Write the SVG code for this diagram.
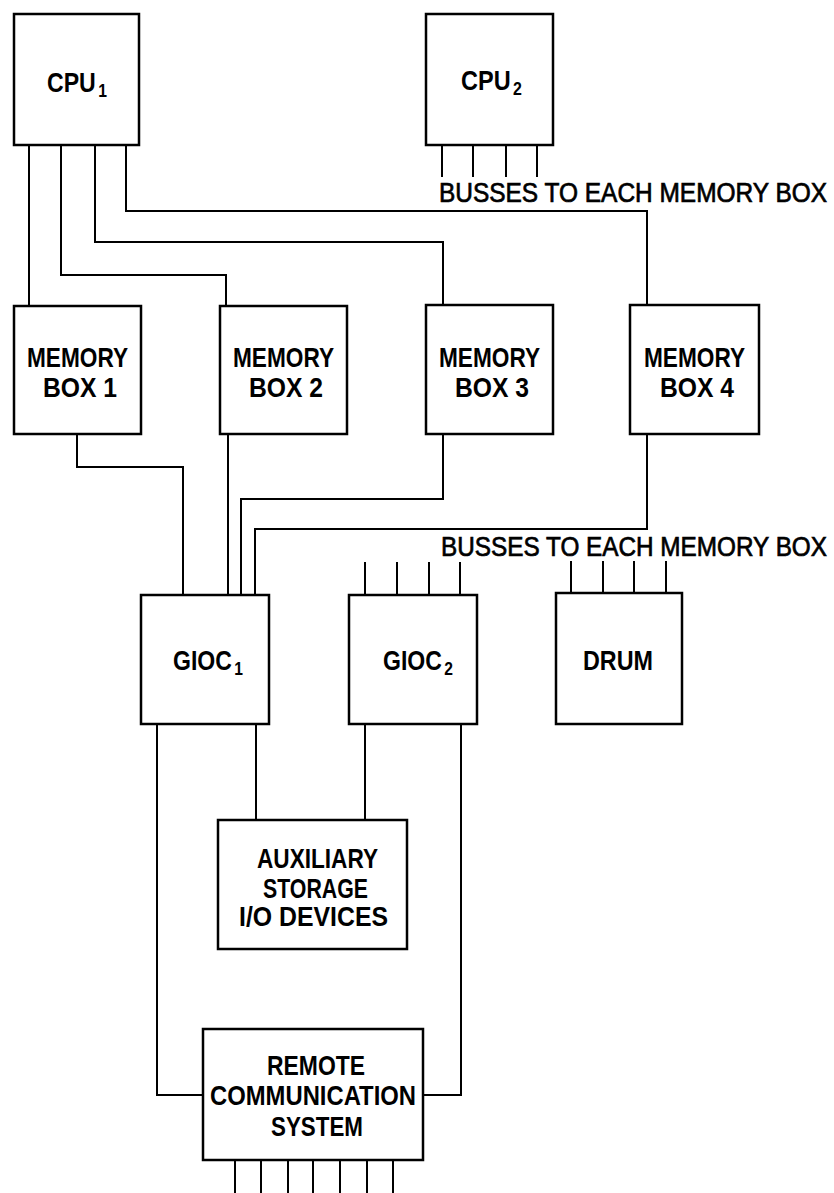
<svg xmlns="http://www.w3.org/2000/svg" width="834" height="1193" viewBox="0 0 834 1193">
<style>
.box{fill:#fff;stroke:#000;stroke-width:2.5}
.ln{fill:none;stroke:#000;stroke-width:2}
text{font-family:"Liberation Sans",Arial,sans-serif;font-weight:bold;font-size:28px;fill:#000}
.bus{font-weight:normal;font-size:27px;stroke:#000;stroke-width:0.7}
.sub{font-size:19px}
.c{text-anchor:middle}
</style>
<rect width="834" height="1193" fill="#fff"/>
<g id="connectors">
<path class="ln" d="M29,145V306"/>
<path class="ln" d="M61,145V275H226V306"/>
<path class="ln" d="M95,145V242H443V305"/>
<path class="ln" d="M126,145V211H647V304"/>
<path class="ln" d="M442,145V177M473,145V177M506,145V177M537,145V177"/>
<path class="ln" d="M77,434V467H183V595"/>
<path class="ln" d="M228,434V595"/>
<path class="ln" d="M443,434V499H241V595"/>
<path class="ln" d="M647,434V529H255V595"/>
<path class="ln" d="M365,562V595M397,562V595M429,562V595M460,562V595"/>
<path class="ln" d="M571,561V593M603,561V593M634,561V593M666,561V593"/>
<path class="ln" d="M256,724V820"/>
<path class="ln" d="M365,724V820"/>
<path class="ln" d="M157,724V1095H203"/>
<path class="ln" d="M461,724V1095H423"/>
<path class="ln" d="M235,1160V1193M261,1160V1193M288,1160V1193M313,1160V1193M340,1160V1193M367,1160V1193M393,1160V1193"/>
<text class="bus" x="439" y="202" textLength="388" lengthAdjust="spacingAndGlyphs">BUSSES TO EACH MEMORY BOX</text>
<text class="bus" x="441" y="556" textLength="386" lengthAdjust="spacingAndGlyphs">BUSSES TO EACH MEMORY BOX</text>
</g>
<g id="cpu1">
<rect class="box" x="14" y="14" width="125" height="131"/>
<text x="47" y="92" textLength="60" lengthAdjust="spacingAndGlyphs">CPU<tspan class="sub" dx="3" dy="5">1</tspan></text>
</g>
<g id="cpu2">
<rect class="box" x="426" y="14" width="127" height="131"/>
<text x="461" y="90" textLength="61" lengthAdjust="spacingAndGlyphs">CPU<tspan class="sub" dx="3" dy="5">2</tspan></text>
</g>
<g id="mem1">
<rect class="box" x="14" y="306" width="127" height="128"/>
<text class="c" x="77.5" y="367" textLength="101" lengthAdjust="spacingAndGlyphs">MEMORY</text>
<text class="c" x="80" y="397" textLength="74" lengthAdjust="spacingAndGlyphs">BOX 1</text>
</g>
<g id="mem2">
<rect class="box" x="220" y="306" width="127" height="128"/>
<text class="c" x="283.5" y="367" textLength="101" lengthAdjust="spacingAndGlyphs">MEMORY</text>
<text class="c" x="286" y="397" textLength="74" lengthAdjust="spacingAndGlyphs">BOX 2</text>
</g>
<g id="mem3">
<rect class="box" x="426" y="305" width="127" height="129"/>
<text class="c" x="489.5" y="367" textLength="101" lengthAdjust="spacingAndGlyphs">MEMORY</text>
<text class="c" x="492" y="397" textLength="74" lengthAdjust="spacingAndGlyphs">BOX 3</text>
</g>
<g id="mem4">
<rect class="box" x="630" y="305" width="129" height="129"/>
<text class="c" x="694.5" y="367" textLength="101" lengthAdjust="spacingAndGlyphs">MEMORY</text>
<text class="c" x="697" y="397" textLength="74" lengthAdjust="spacingAndGlyphs">BOX 4</text>
</g>
<g id="gioc1">
<rect class="box" x="141" y="595" width="128" height="129"/>
<text x="173" y="670" textLength="70" lengthAdjust="spacingAndGlyphs">GIOC<tspan class="sub" dx="3" dy="5">1</tspan></text>
</g>
<g id="gioc2">
<rect class="box" x="349" y="595" width="128" height="129"/>
<text x="383" y="670" textLength="70" lengthAdjust="spacingAndGlyphs">GIOC<tspan class="sub" dx="3" dy="5">2</tspan></text>
</g>
<g id="drum">
<rect class="box" x="556" y="593" width="126" height="131"/>
<text x="583" y="670" textLength="70" lengthAdjust="spacingAndGlyphs">DRUM</text>
</g>
<g id="aux">
<rect class="box" x="218" y="820" width="189" height="129"/>
<text x="257" y="868" textLength="121" lengthAdjust="spacingAndGlyphs">AUXILIARY</text>
<text x="263" y="898" textLength="105" lengthAdjust="spacingAndGlyphs">STORAGE</text>
<text x="239" y="926" textLength="149" lengthAdjust="spacingAndGlyphs">I/O DEVICES</text>
</g>
<g id="remote">
<rect class="box" x="203" y="1029" width="220" height="131"/>
<text x="267" y="1075" textLength="98" lengthAdjust="spacingAndGlyphs">REMOTE</text>
<text x="210" y="1105" textLength="206" lengthAdjust="spacingAndGlyphs">COMMUNICATION</text>
<text x="271" y="1136" textLength="92" lengthAdjust="spacingAndGlyphs">SYSTEM</text>
</g>
</svg>
